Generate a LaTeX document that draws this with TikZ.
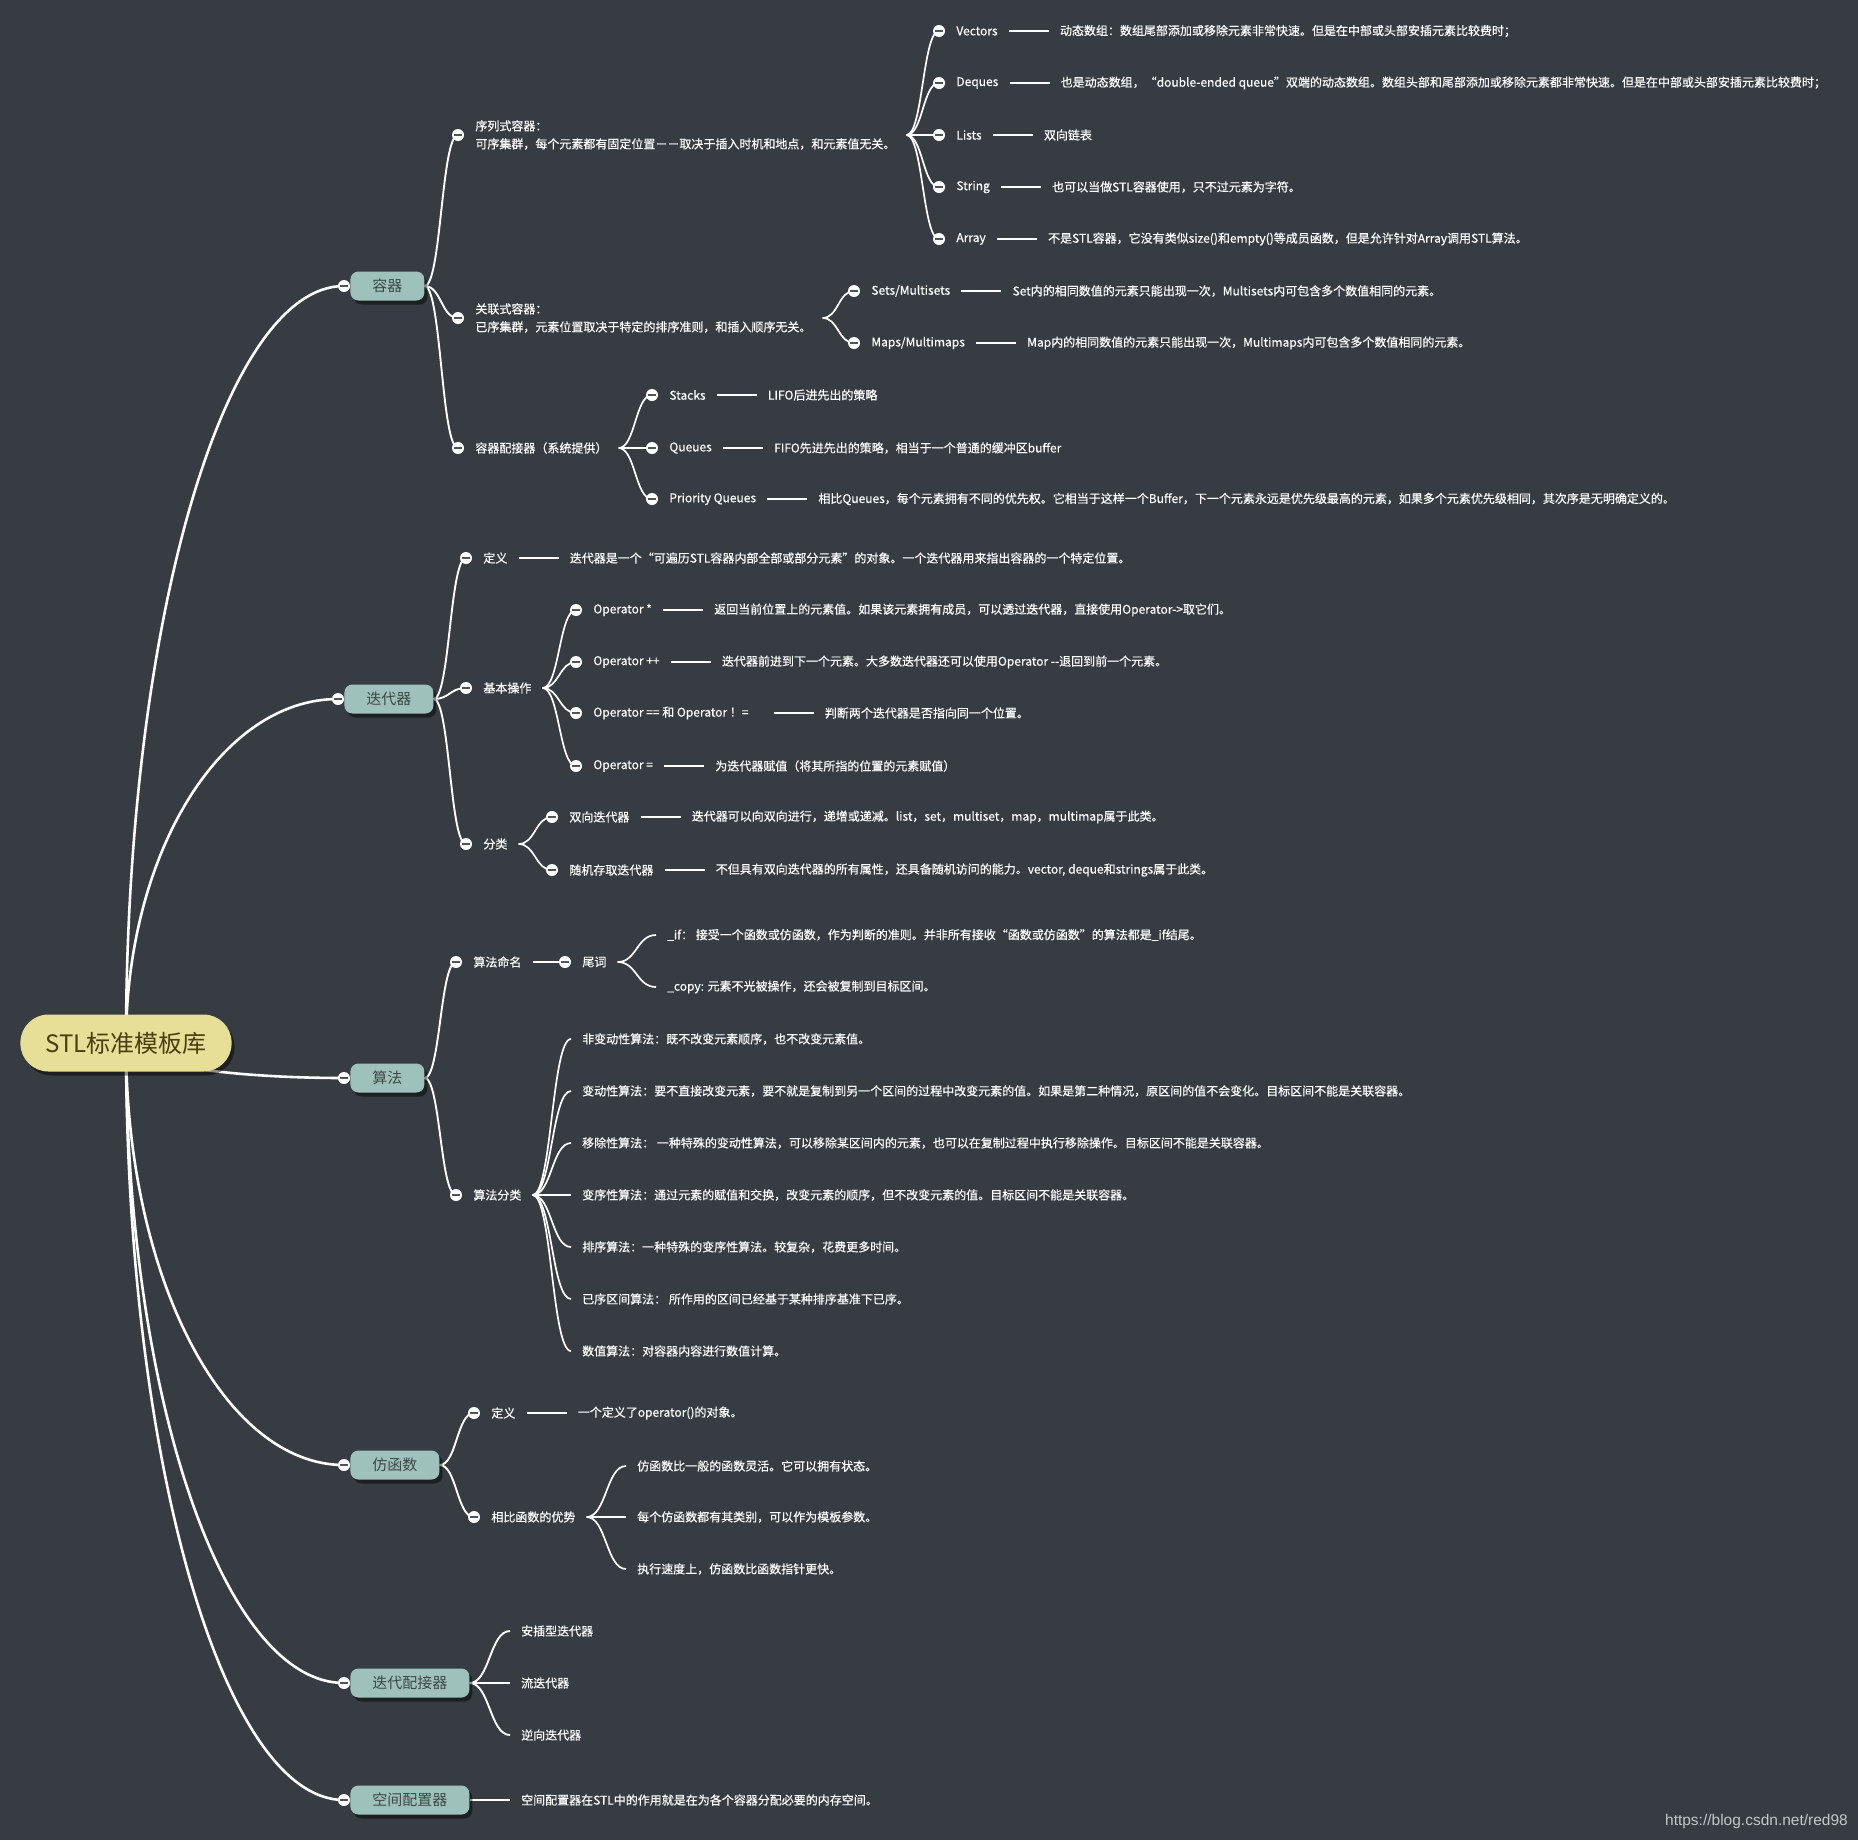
\documentclass[tikz,border=0pt]{standalone}
\usepackage{fontspec}
\setmainfont{Noto Sans CJK SC}
\newfontfamily\itemfont{Noto Sans CJK SC}[FakeBold=0.45]
\newfontfamily\stampfont{Liberation Sans}
\usepackage{tikz}
\usetikzlibrary{positioning, calc, shadows}
\usepackage{xcolor}

\definecolor{boardbg}{RGB}{54,60,65}
\definecolor{rootfill}{RGB}{231,222,151}
\definecolor{roottext}{RGB}{74,62,14}
\definecolor{topicfill}{RGB}{158,194,187}
\definecolor{topictext}{RGB}{60,72,70}
\definecolor{knobbar}{RGB}{78,84,90}
\definecolor{stampgray}{RGB}{196,198,200}

\pgfdeclarelayer{board}
\pgfdeclarelayer{wires}
\pgfsetlayers{board,wires,main}

\begin{document}
\begin{tikzpicture}[
  x=1pt, y=-1pt,
  node distance=40pt,
  rootpill/.style={rectangle, rounded corners=28pt, fill=rootfill, text=roottext,
            minimum height=57pt, inner xsep=25pt, inner ysep=0pt,
            font=\fontsize{24}{28}\selectfont,
            drop shadow={shadow xshift=3pt, shadow yshift=-4pt, fill=black, opacity=.45}},
  topic/.style={rectangle, rounded corners=8pt, fill=topicfill, text=topictext,
            minimum height=29pt, inner xsep=22pt, inner ysep=0pt,
            font=\fontsize{15}{18}\selectfont,
            drop shadow={shadow xshift=3pt, shadow yshift=-4pt, fill=black, opacity=.45}},
  knob/.style={circle, fill=white, minimum size=12pt, inner sep=0pt,
            path picture={\draw[knobbar, line width=1.7pt]
              ([xshift=1.8pt]path picture bounding box.west) --
              ([xshift=-1.8pt]path picture bounding box.east);}},
  item/.style={text=white, inner xsep=11pt, inner ysep=2pt, align=left,
            font=\itemfont\fontsize{12}{18}\selectfont},
  stamp/.style={text=stampgray, inner sep=0pt, font=\stampfont\fontsize{15.5}{18}\selectfont},
  trunk/.style={draw=white, line width=2.6pt},
  wire/.style={draw=white, line width=1.9pt},
  twig/.style={draw=white, line width=1.7pt},
  ell/.style={to path={let \p1=(\tikztostart), \p2=(\tikztotarget) in
            .. controls (\x1,{\y1+0.5523*((\y2)-(\y1))}) and ({\x2-0.5523*((\x2)-(\x1))},\y2)
            .. (\tikztotarget)}},
  sbend/.style={to path={let \p1=(\tikztostart), \p2=(\tikztotarget) in
            .. controls ({((\x1)+(\x2))/2},\y1) and ({((\x1)+(\x2))/2},\y2)
            .. (\tikztotarget)}}
]
\useasboundingbox (0,0) rectangle (1858,1840);
\begin{pgfonlayer}{board}
  \fill[boardbg] (0,0) rectangle (1858,1840);
\end{pgfonlayer}

% ================================================= root and topics
\node[rootpill] (root) at (126,1043) {STL标准模板库};

\node[knob] (kcont) at (344,286)  {};
\node[topic, right=0pt of kcont] (cont) {容器};
\node[knob] (kiter) at (338,699)  {};
\node[topic, right=0pt of kiter] (iter) {迭代器};
\node[knob] (kalgo) at (344,1078) {};
\node[topic, right=0pt of kalgo] (algo) {算法};
\node[knob] (kfunc) at (344,1465) {};
\node[topic, right=0pt of kfunc] (func) {仿函数};
\node[knob] (kitad) at (344,1683) {};
\node[topic, right=0pt of kitad] (itad) {迭代配接器};
\node[knob] (kaloc) at (344,1800) {};
\node[topic, right=0pt of kaloc] (aloc) {空间配置器};

% ================================================= 1. 容器
\node[knob] (kseq) at (458,135) {};
\node[item, right=0pt of kseq] (seq)
  {序列式容器：\\可序集群，每个元素都有固定位置－－取决于插入时机和地点，和元素值无关。};

\node[knob] (kvec) at (939,31) {};
\node[item, right=0pt of kvec] (vec) {Vectors};
\node[item, right=of vec] (vecd) {动态数组：数组尾部添加或移除元素非常快速。但是在中部或头部安插元素比较费时；};
\node[knob] (kdeq) at (939,83) {};
\node[item, right=0pt of kdeq] (deq) {Deques};
\node[item, right=of deq] (deqd)
  {也是动态数组，“double-ended queue”双端的动态数组。数组头部和尾部添加或移除元素都非常快速。但是在中部或头部安插元素比较费时；};
\node[knob] (klst) at (939,135) {};
\node[item, right=0pt of klst] (lst) {Lists};
\node[item, right=of lst] (lstd) {双向链表};
\node[knob] (kstr) at (939,187) {};
\node[item, right=0pt of kstr] (str) {String};
\node[item, right=of str] (strd) {也可以当做STL容器使用，只不过元素为字符。};
\node[knob] (karr) at (939,239) {};
\node[item, right=0pt of karr] (arr) {Array};
\node[item, right=of arr] (arrd) {不是STL容器，它没有类似size()和empty()等成员函数，但是允许针对Array调用STL算法。};

\node[knob] (kasc) at (458,318) {};
\node[item, right=0pt of kasc] (asc)
  {关联式容器：\\已序集群，元素位置取决于特定的排序准则，和插入顺序无关。};
\node[knob] (kset) at (854,291) {};
\node[item, right=0pt of kset] (set) {Sets/Multisets};
\node[item, right=of set] (setd) {Set内的相同数值的元素只能出现一次，Multisets内可包含多个数值相同的元素。};
\node[knob] (kmap) at (854,343) {};
\node[item, right=0pt of kmap] (map) {Maps/Multimaps};
\node[item, right=of map] (mapd) {Map内的相同数值的元素只能出现一次，Multimaps内可包含多个数值相同的元素。};

\node[knob] (kadp) at (458,448) {};
\node[item, right=0pt of kadp] (adp) {容器配接器（系统提供）};
\node[knob] (kstk) at (652,395) {};
\node[item, right=0pt of kstk] (stk) {Stacks};
\node[item, right=of stk] (stkd) {LIFO后进先出的策略};
\node[knob] (kque) at (652,448) {};
\node[item, right=0pt of kque] (que) {Queues};
\node[item, right=of que] (qued) {FIFO先进先出的策略，相当于一个普通的缓冲区buffer};
\node[knob] (kpq) at (652,499) {};
\node[item, right=0pt of kpq] (pq) {Priority Queues};
\node[item, right=of pq] (pqd)
  {相比Queues，每个元素拥有不同的优先权。它相当于这样一个Buffer，下一个元素永远是优先级最高的元素，如果多个元素优先级相同，其次序是无明确定义的。};

% ================================================= 2. 迭代器
\node[knob] (kidef) at (466,558) {};
\node[item, right=0pt of kidef] (idef) {定义};
\node[item, right=of idef] (idefd) {迭代器是一个“可遍历STL容器内部全部或部分元素”的对象。一个迭代器用来指出容器的一个特定位置。};

\node[knob] (kops) at (466,688) {};
\node[item, right=0pt of kops] (ops) {基本操作};
\node[knob] (kop1) at (576,610) {};
\node[item, right=0pt of kop1] (op1) {Operator *};
\node[item, right=of op1] (op1d) {返回当前位置上的元素值。如果该元素拥有成员，可以透过迭代器，直接使用Operator->取它们。};
\node[knob] (kop2) at (576,662) {};
\node[item, right=0pt of kop2] (op2) {Operator ++};
\node[item, right=of op2] (op2d) {迭代器前进到下一个元素。大多数迭代器还可以使用Operator -{}-退回到前一个元素。};
\node[knob] (kop3) at (576,713) {};
\node[item, right=0pt of kop3] (op3) {Operator == 和 Operator ！=\hspace*{14pt}};
\node[item, right=of op3] (op3d) {判断两个迭代器是否指向同一个位置。};
\node[knob] (kop4) at (576,766) {};
\node[item, right=0pt of kop4] (op4) {Operator =};
\node[item, right=of op4] (op4d) {为迭代器赋值（将其所指的位置的元素赋值）};

\node[knob] (kcls) at (466,844) {};
\node[item, right=0pt of kcls] (cls) {分类};
\node[knob] (kbid) at (552,817) {};
\node[item, right=0pt of kbid] (bid) {双向迭代器};
\node[item, right=of bid] (bidd) {迭代器可以向双向进行，递增或递减。list，set，multiset，map，multimap属于此类。};
\node[knob] (kran) at (552,870) {};
\node[item, right=0pt of kran] (ran) {随机存取迭代器};
\node[item, right=of ran] (rand) {不但具有双向迭代器的所有属性，还具备随机访问的能力。vector, deque和strings属于此类。};

% ================================================= 3. 算法
\node[knob] (knam) at (456,962) {};
\node[item, right=0pt of knam] (nam) {算法命名};
\node[knob] (kwei) at (565,962) {};
\node[item, right=0pt of kwei] (wei) {尾词};
\node[item, anchor=west] (wif) at (656,935)
  {\_if： 接受一个函数或仿函数，作为判断的准则。并非所有接收“函数或仿函数”的算法都是\_if结尾。};
\node[item, anchor=west] (wcp) at (656,987) {\_copy: 元素不光被操作，还会被复制到目标区间。};

\node[knob] (kcat) at (456,1195) {};
\node[item, right=0pt of kcat] (cat) {算法分类};
\node[item, anchor=west] (a1) at (571,1039) {非变动性算法：既不改变元素顺序，也不改变元素值。};
\node[item, anchor=west] (a2) at (571,1091)
  {变动性算法：要不直接改变元素，要不就是复制到另一个区间的过程中改变元素的值。如果是第二种情况，原区间的值不会变化。目标区间不能是关联容器。};
\node[item, anchor=west] (a3) at (571,1143)
  {移除性算法： 一种特殊的变动性算法，可以移除某区间内的元素，也可以在复制过程中执行移除操作。目标区间不能是关联容器。};
\node[item, anchor=west] (a4) at (571,1195)
  {变序性算法：通过元素的赋值和交换，改变元素的顺序，但不改变元素的值。目标区间不能是关联容器。};
\node[item, anchor=west] (a5) at (571,1247) {排序算法：一种特殊的变序性算法。较复杂，花费更多时间。};
\node[item, anchor=west] (a6) at (571,1299) {已序区间算法： 所作用的区间已经基于某种排序基准下已序。};
\node[item, anchor=west] (a7) at (571,1351) {数值算法：对容器内容进行数值计算。};

% ================================================= 4. 仿函数
\node[knob] (kfdef) at (474,1413) {};
\node[item, right=0pt of kfdef] (fdef) {定义};
\node[item, right=of fdef] (fdefd) {一个定义了operator()的对象。};
\node[knob] (kfadv) at (474,1517) {};
\node[item, right=0pt of kfadv] (fadv) {相比函数的优势};
\node[item, anchor=west] (f1) at (626,1466) {仿函数比一般的函数灵活。它可以拥有状态。};
\node[item, anchor=west] (f2) at (626,1517) {每个仿函数都有其类别，可以作为模板参数。};
\node[item, anchor=west] (f3) at (626,1569) {执行速度上，仿函数比函数指针更快。};

% ================================================= 5. 迭代配接器 / 6. 空间配置器
\node[item, anchor=west] (t1) at (510,1631) {安插型迭代器};
\node[item, anchor=west] (t2) at (510,1683) {流迭代器};
\node[item, anchor=west] (t3) at (510,1735) {逆向迭代器};
\node[item, anchor=west] (alocd) at (510,1800) {空间配置器在STL中的作用就是在为各个容器分配必要的内存空间。};

\node[stamp, anchor=east] (wm) at (1848,1821) {https://blog.csdn.net/red98};

% ================================================= connectors
\begin{pgfonlayer}{wires}
  \foreach \k in {kcont, kiter, kalgo, kfunc, kitad, kaloc}
    \draw[trunk] (root.center) to[ell] (\k.center);

  \foreach \k in {kseq, kasc, kadp}
    \draw[wire] (cont.east) to[sbend] (\k.center);
  \foreach \k in {kidef, kops, kcls}
    \draw[wire] (iter.east) to[sbend] (\k.center);
  \foreach \k in {knam, kcat}
    \draw[wire] (algo.east) to[sbend] (\k.center);
  \foreach \k in {kfdef, kfadv}
    \draw[wire] (func.east) to[sbend] (\k.center);
  \foreach \k in {t1, t2, t3}
    \draw[wire] (itad.east) to[sbend] (\k.west);
  \draw[wire] (aloc.east) -- (alocd.west);

  \foreach \k in {kvec, kdeq, klst, kstr, karr}
    \draw[twig] (seq.east) to[sbend] (\k.center);
  \foreach \k in {kset, kmap}
    \draw[twig] (asc.east) to[sbend] (\k.center);
  \foreach \k in {kstk, kque, kpq}
    \draw[twig] (adp.east) to[sbend] (\k.center);
  \foreach \k in {kop1, kop2, kop3, kop4}
    \draw[twig] (ops.east) to[sbend] (\k.center);
  \foreach \k in {kbid, kran}
    \draw[twig] (cls.east) to[sbend] (\k.center);
  \draw[twig] (nam.east) -- (kwei.center);
  \foreach \k in {wif, wcp}
    \draw[twig] (wei.east) to[sbend] (\k.west);
  \foreach \k in {a1, a2, a3, a4, a5, a6, a7}
    \draw[twig] (cat.east) to[sbend] (\k.west);
  \foreach \k in {f1, f2, f3}
    \draw[twig] (fadv.east) to[sbend] (\k.west);

  % label -- description dashes
  \foreach \a/\b in {vec/vecd, deq/deqd, lst/lstd, str/strd, arr/arrd, set/setd, map/mapd,
                     stk/stkd, que/qued, pq/pqd, idef/idefd, op1/op1d, op2/op2d, op3/op3d,
                     op4/op4d, bid/bidd, ran/rand, fdef/fdefd}
    \draw[twig] (\a.east) -- (\a.east -| \b.west);
\end{pgfonlayer}
\end{tikzpicture}
\end{document}
